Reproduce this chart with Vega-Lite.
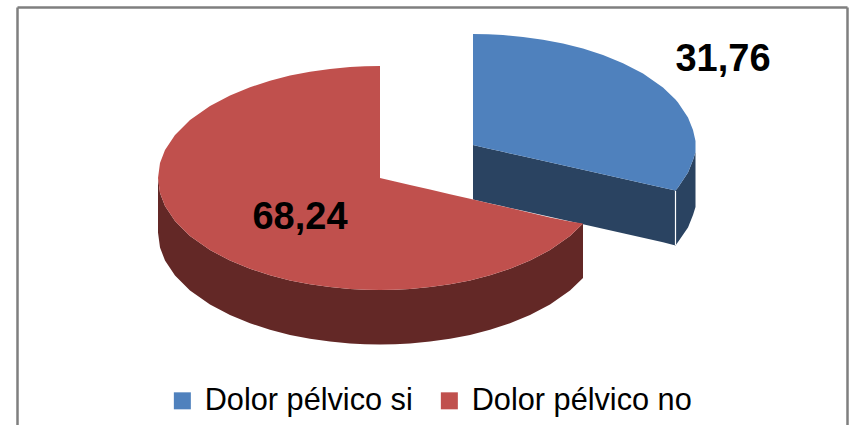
{"$schema":"https://vega.github.io/schema/vega-lite/v6.json","width":830,"height":418,"autosize":"none","padding":{"left":17,"top":7,"right":3,"bottom":0},"background":"white","config":{"view":{"stroke":null},"font":"Liberation Sans"},
"datasets":{"outline":[
{"slice":"Dolor pélvico si","x":473,"top":34,"bottom":145,"base":199.5},
{"slice":"Dolor pélvico si","x":488,"top":34.3,"bottom":148.4,"base":202.9},
{"slice":"Dolor pélvico si","x":503,"top":35,"bottom":151.8,"base":206.3},
{"slice":"Dolor pélvico si","x":523,"top":36.9,"bottom":156.3,"base":210.8},
{"slice":"Dolor pélvico si","x":543,"top":39.7,"bottom":160.8,"base":215.3},
{"slice":"Dolor pélvico si","x":563,"top":43.5,"bottom":165.3,"base":219.8},
{"slice":"Dolor pélvico si","x":583,"top":48.6,"bottom":169.8,"base":224.3},
{"slice":"Dolor pélvico si","x":603,"top":55,"bottom":174.3,"base":228.8},
{"slice":"Dolor pélvico si","x":623,"top":63.2,"bottom":178.8,"base":233.3},
{"slice":"Dolor pélvico si","x":643,"top":73.6,"bottom":183.3,"base":237.8},
{"slice":"Dolor pélvico si","x":663,"top":87.6,"bottom":187.8,"base":242.3},
{"slice":"Dolor pélvico si","x":675.5,"top":99.5,"bottom":190.5,"base":245.5},
{"slice":"Dolor pélvico si","x":678,"top":102.4,"bottom":187.6,"base":242},
{"slice":"Dolor pélvico si","x":688,"top":117.4,"bottom":172.6,"base":227.6},
{"slice":"Dolor pélvico si","x":693,"top":130,"bottom":160,"base":215},
{"slice":"Dolor pélvico si","x":695.5,"top":141,"bottom":152,"base":207},
{"slice":"Dolor pélvico no","x":158,"top":178,"bottom":178,"base":232.5},
{"slice":"Dolor pélvico no","x":160,"top":163,"bottom":193,"base":247.5},
{"slice":"Dolor pélvico no","x":165,"top":150,"bottom":206,"base":260.5},
{"slice":"Dolor pélvico no","x":175,"top":135,"bottom":221,"base":275.5},
{"slice":"Dolor pélvico no","x":190,"top":120,"bottom":236,"base":290.5},
{"slice":"Dolor pélvico no","x":210,"top":106,"bottom":250,"base":304.5},
{"slice":"Dolor pélvico no","x":230,"top":95.4,"bottom":260.6,"base":315.1},
{"slice":"Dolor pélvico no","x":250,"top":87.2,"bottom":268.8,"base":323.3},
{"slice":"Dolor pélvico no","x":270,"top":80.7,"bottom":275.3,"base":329.8},
{"slice":"Dolor pélvico no","x":290,"top":75.6,"bottom":280.4,"base":334.9},
{"slice":"Dolor pélvico no","x":310,"top":71.7,"bottom":284.3,"base":338.8},
{"slice":"Dolor pélvico no","x":330,"top":68.9,"bottom":287.1,"base":341.6},
{"slice":"Dolor pélvico no","x":350,"top":67,"bottom":289,"base":343.5},
{"slice":"Dolor pélvico no","x":365,"top":66.3,"bottom":289.7,"base":344.2},
{"slice":"Dolor pélvico no","x":380,"top":66,"bottom":290,"base":344.5},
{"slice":"Dolor pélvico no","x":380,"top":178,"bottom":290,"base":344.5},
{"slice":"Dolor pélvico no","x":395,"top":181.5,"bottom":289.7,"base":344.2},
{"slice":"Dolor pélvico no","x":410,"top":184.9,"bottom":289,"base":343.5},
{"slice":"Dolor pélvico no","x":430,"top":189.6,"bottom":287.1,"base":341.6},
{"slice":"Dolor pélvico no","x":450,"top":194.2,"bottom":284.3,"base":338.8},
{"slice":"Dolor pélvico no","x":470,"top":198.8,"bottom":280.4,"base":334.9},
{"slice":"Dolor pélvico no","x":490,"top":203.5,"bottom":275.3,"base":329.8},
{"slice":"Dolor pélvico no","x":510,"top":208.1,"bottom":268.8,"base":323.3},
{"slice":"Dolor pélvico no","x":530,"top":212.7,"bottom":260.6,"base":315.1},
{"slice":"Dolor pélvico no","x":550,"top":217.4,"bottom":250,"base":304.5},
{"slice":"Dolor pélvico no","x":570,"top":221.5,"bottom":235.9,"base":290.4},
{"slice":"Dolor pélvico no","x":583,"top":223.5,"bottom":223.5,"base":278}
],
"labels":[
{"slice":"Dolor pélvico si","value":31.76,"label":"31,76","x":723,"y":60},
{"slice":"Dolor pélvico no","value":68.24,"label":"68,24","x":300,"y":218}
],
"edge":[{"x":675.5,"y":191,"y2":245}]},
"encoding":{"x":{"field":"x","type":"quantitative","scale":{"domain":[17,847],"nice":false,"zero":false},"axis":{"orient":"top","title":null,"labels":false,"ticks":false,"grid":false,"domain":true,"domainColor":"#7F7F7F","domainWidth":2.5}}},
"layer":[
{"data":{"name":"outline"},"transform":[{"filter":"datum.slice === 'Dolor pélvico si'"}],"mark":{"type":"area","color":"#2A4361","orient":"vertical"},
"encoding":{"y":{"field":"bottom","type":"quantitative","scale":{"domain":[425,7],"nice":false,"zero":false},"axis":{"orient":"left","title":null,"labels":false,"ticks":false,"grid":false,"domain":true,"domainColor":"#7F7F7F","domainWidth":2.5}},
"y2":{"field":"base"}}},
{"data":{"name":"edge"},"mark":{"type":"rule","color":"white","strokeWidth":1.2},
"encoding":{"y":{"field":"y","type":"quantitative","axis":{"orient":"right","title":null,"labels":false,"ticks":false,"grid":false,"domain":true,"domainColor":"#7F7F7F","domainWidth":2.5}},"y2":{"field":"y2"}}},
{"data":{"name":"outline"},"transform":[{"filter":"datum.slice === 'Dolor pélvico no'"}],"mark":{"type":"area","color":"#632826","orient":"vertical"},
"encoding":{"y":{"field":"bottom","type":"quantitative","axis":null},"y2":{"field":"base"}}},
{"data":{"name":"outline"},"mark":{"type":"area","orient":"vertical"},
"encoding":{"y":{"field":"top","type":"quantitative","axis":null},"y2":{"field":"bottom"},
"color":{"field":"slice","type":"nominal","scale":{"domain":["Dolor pélvico si","Dolor pélvico no"],"range":["#4F81BD","#C0504D"]},"legend":{"orient":"none","legendX":150,"legendY":378,"direction":"horizontal","columns":2,"title":null,"symbolType":"square","symbolSize":289,"symbolStrokeWidth":0,"symbolOpacity":1,"labelFont":"Liberation Sans","labelFontSize":30.7,"labelColor":"#000000","labelOffset":7,"columnPadding":21,"labelLimit":400}}}},
{"data":{"name":"labels"},"mark":{"type":"text","font":"Liberation Sans","fontWeight":"bold","fontSize":38,"color":"#000000","align":"center","baseline":"middle"},
"encoding":{"y":{"field":"y","type":"quantitative","axis":null},"text":{"field":"label","type":"nominal"}}}
]}
